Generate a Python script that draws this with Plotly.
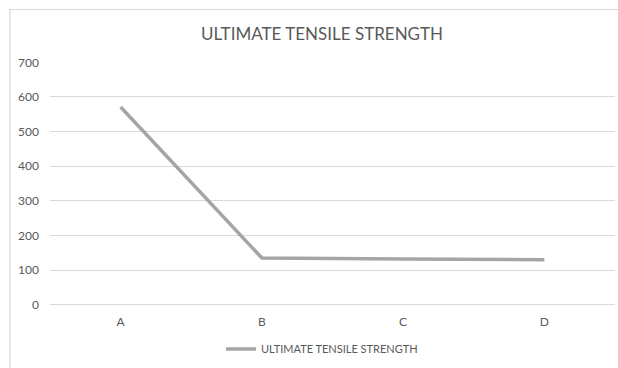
import plotly.graph_objects as go

categories = ["A", "B", "C", "D"]
uts_values = [571, 135, 132, 130]
y_ticks = [0, 100, 200, 300, 400, 500, 600, 700]
series_name = "ULTIMATE TENSILE STRENGTH"

FONT = "Lato, 'Open Sans', sans-serif"
TXT = "#595959"

fig = go.Figure()
fig.add_trace(go.Scatter(
    x=categories, y=uts_values, mode="lines", name=series_name,
    line=dict(color="#a5a5a5", width=3.5),
))

W, H = 618, 368
L, R, T, B = 50, 3, 62, 63
pw = W - L - R
ph = H - T - B

def px_x(x):
    return (x - L) / pw

def px_y(y):
    return (H - B - y) / ph

fig.update_layout(
    width=W, height=H,
    margin=dict(l=L, r=R, t=T, b=B, pad=0),
    paper_bgcolor="white", plot_bgcolor="white",
    font=dict(family=FONT, color=TXT, size=12),
    title=dict(text=series_name, x=px_x(322), xanchor="center",
               xref="paper", y=1 - 34 / H, yanchor="middle",
               font=dict(size=17, color=TXT, family=FONT)),
    showlegend=True,
    legend=dict(orientation="h", x=px_x(322), xanchor="center",
                y=px_y(349), yanchor="middle",
                font=dict(size=11, color=TXT, family=FONT),
                bgcolor="rgba(0,0,0,0)"),
    xaxis=dict(type="category", range=[-0.5, 3.5], showgrid=False,
               showline=False, zeroline=False, ticks="",
               ticklabelstandoff=8, tickfont=dict(size=12, color=TXT)),
    yaxis=dict(range=[-0.5, 701], tickvals=y_ticks, showgrid=True,
               gridcolor="#d9d9d9", gridwidth=1, zeroline=True,
               zerolinecolor="#d9d9d9", zerolinewidth=1,
               showline=False, ticks="", ticklabelstandoff=10,
               tickfont=dict(size=12, color=TXT)),
    shapes=[dict(type="rect", xref="paper", yref="paper",
                 x0=px_x(10), x1=px_x(640), y0=px_y(380), y1=px_y(9.5),
                 line=dict(color="#d9d9d9", width=1.2), layer="below")],
)

fig.write_html(
    "out.html",
    config={"displayModeBar": False},
    post_script=("document.body.style.margin='0';"
                 "document.body.style.padding='0';"
                 "document.body.style.overflow='hidden';"),
)
